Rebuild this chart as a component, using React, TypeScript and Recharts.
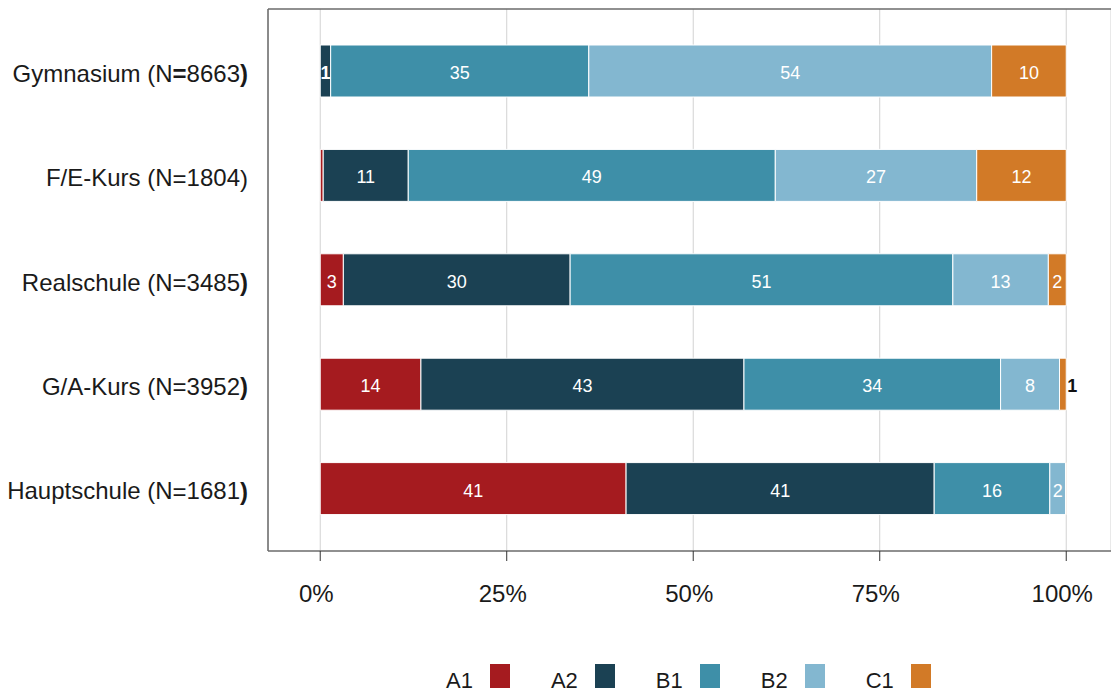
import React from 'react';
import { BarChart, Bar, XAxis, YAxis, CartesianGrid, LabelList } from 'recharts';

const SCHOOLS = ['Gymnasium', 'F/E-Kurs', 'Realschule', 'G/A-Kurs', 'Hauptschule'];
const COUNTS = [8663, 1804, 3485, 3952, 1681];
const LEVELS = ['A1', 'A2', 'B1', 'B2', 'C1'];
// percentages per school, top to bottom
const A1 = [0, 0.4, 3.1, 13.5, 41.0];
const A2 = [1.4, 11.4, 30.4, 43.3, 41.3];
const B1 = [34.6, 49.2, 51.3, 34.4, 15.5];
const B2 = [54.0, 27.0, 12.8, 7.9, 2.1];
const C1 = [10.0, 12.0, 2.4, 0.9, 0.1];
const X_TICKS = [0, 25, 50, 75, 100];

const COLORS = ['#a51b1f', '#1b4153', '#3e8fa8', '#83b7d0', '#d27a27'];
const FONT = '"Liberation Sans", Arial, Helvetica, sans-serif';
const BORDER = '#6b6b6b';

const data = SCHOOLS.map((name, i) => ({
  name,
  A1: A1[i],
  A2: A2[i],
  B1: B1[i],
  B2: B2[i],
  C1: C1[i],
}));

// the source render has some glyphs heavier than the rest
const BOLD_PARTS: Record<string, string[]> = {
  Gymnasium: ['=', ')'],
  Realschule: [')'],
  'G/A-Kurs': [')'],
  Hauptschule: [')'],
};

const SchoolTick = ({ x, y, payload }: any) => {
  const i = SCHOOLS.indexOf(payload.value);
  const bold = BOLD_PARTS[payload.value] ?? [];
  return (
    <text x={x} y={y + 2} textAnchor="end" dominantBaseline="central" fontSize={24} fill="#1a1a1a">
      {payload.value} (N
      <tspan fontWeight={bold.includes('=') ? 'bold' : 'normal'}>=</tspan>
      {COUNTS[i]}
      <tspan fontWeight={bold.includes(')') ? 'bold' : 'normal'}>)</tspan>
    </text>
  );
};

const PercentTick = ({ x, y, payload }: any) => (
  <text x={x - 4} y={y} dy="0.71em" textAnchor="middle" fontSize={24} fill="#1a1a1a">
    {`${payload.value}%`}
  </text>
);

const renderLabel = (props: any) => {
  const { x, y, width, height, value } = props;
  const v = Math.round(Number(value));
  if (!v) return null;
  const cy = Number(y) + Number(height) / 2 + 2;
  if (Number(value) < 1) {
    return (
      <text x={Number(x) + Number(width) + 1} y={cy} textAnchor="start" dominantBaseline="central"
        fontSize={18} fontWeight="bold" fill="#111">
        {v}
      </text>
    );
  }
  return (
    <text x={Number(x) + Number(width) / 2} y={cy} textAnchor="middle" dominantBaseline="central"
      fontSize={18} fontWeight={v === 1 ? 'bold' : 'normal'} fill="#ffffff">
      {v}
    </text>
  );
};

export default function App() {
  return (
    <div style={{ position: 'relative', width: 1111, height: 695, fontFamily: FONT, background: '#fff' }}>
      <style>{'body{margin:0}'}</style>
      <BarChart
        width={1111}
        height={695}
        data={data}
        layout="vertical"
        margin={{ top: 8, right: 0, left: 0, bottom: 84 }}
      >
        <CartesianGrid horizontal={false} stroke="#d2d2d2" />
        <XAxis
          type="number"
          domain={[-7, 106]}
          ticks={X_TICKS}
          allowDataOverflow
          axisLine={{ stroke: BORDER, strokeWidth: 1.5 }}
          tickLine={{ stroke: '#333' }}
          tickSize={10}
          tickMargin={24}
          tick={<PercentTick />}
          height={60}
        />
        <XAxis
          xAxisId="top"
          orientation="top"
          type="number"
          domain={[-7, 106]}
          allowDataOverflow
          tick={false}
          tickLine={false}
          axisLine={{ stroke: BORDER, strokeWidth: 1.5 }}
          height={1}
        />
        <YAxis
          type="category"
          dataKey="name"
          width={268}
          axisLine={{ stroke: BORDER, strokeWidth: 1.5 }}
          tickLine={false}
          tickSize={0}
          tickMargin={20}
          tick={<SchoolTick />}
          padding={{ top: 10, bottom: 10 }}
        />
        {LEVELS.map((lvl, i) => (
          <Bar
            key={lvl}
            dataKey={lvl}
            stackId="a"
            fill={COLORS[i]}
            stroke="#ffffff"
            strokeWidth={1}
            barSize={52}
            isAnimationActive={false}
          >
            <LabelList dataKey={lvl} content={renderLabel} />
          </Bar>
        ))}
      </BarChart>
      <div
        style={{
          position: 'absolute',
          left: 446,
          top: 664,
          display: 'flex',
          alignItems: 'flex-end',
          fontSize: 22,
          color: '#1a1a1a',
        }}
      >
        {LEVELS.map((lvl, i) => (
          <div key={lvl} style={{ display: 'flex', alignItems: 'flex-end', marginRight: 41 }}>
            <span style={{ lineHeight: '22px', marginBottom: -4 }}>{lvl}</span>
            <span style={{ width: 20, height: 24, background: COLORS[i], marginLeft: 17 }} />
          </div>
        ))}
      </div>
    </div>
  );
}
